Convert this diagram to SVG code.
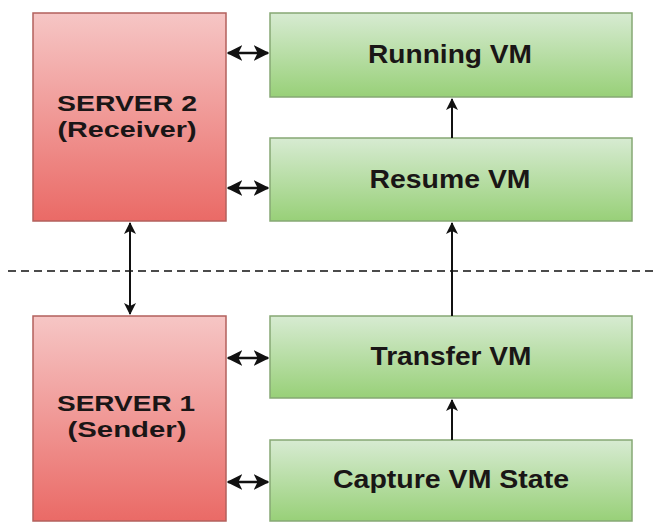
<svg xmlns="http://www.w3.org/2000/svg" width="653" height="523" viewBox="0 0 653 523">
<defs>
<linearGradient id="gRed" x1="0" y1="0" x2="0" y2="1">
<stop offset="0" stop-color="#f6c6c5"/>
<stop offset="1" stop-color="#ea6a66"/>
</linearGradient>
<linearGradient id="gGreen" x1="0" y1="0" x2="0" y2="1">
<stop offset="0" stop-color="#d7ebd2"/>
<stop offset="1" stop-color="#98d078"/>
</linearGradient>
<marker id="ah" viewBox="0 0 12 12" refX="11" refY="6" markerWidth="6" markerHeight="6" orient="auto-start-reverse" markerUnits="strokeWidth">
<path d="M0,0 L12,6 L0,12 L3,6 Z" fill="#111"/>
</marker>
<style>
.red{fill:url(#gRed);stroke:#b3605c;stroke-width:1.5}
.green{fill:url(#gGreen);stroke:#86a874;stroke-width:1.5}
.t{font-family:"Liberation Sans",Arial,sans-serif;font-weight:bold;font-size:25px;fill:#1a1616;text-anchor:middle}
.s{font-size:22px}
.c{stroke:#111;stroke-width:2;fill:none}
.h{stroke:#111;stroke-width:2.6;fill:none}
</style>
</defs>
<rect width="653" height="523" fill="#ffffff"/>
<g id="server2"><rect class="red" x="33" y="13" width="193" height="208"/>
<text class="t s" x="127" y="111" textLength="140" lengthAdjust="spacingAndGlyphs">SERVER 2</text><text class="t s" x="127" y="137" textLength="139" lengthAdjust="spacingAndGlyphs">(Receiver)</text></g>
<g id="server1"><rect class="red" x="33" y="316" width="193" height="205"/>
<text class="t s" x="126" y="411" textLength="138" lengthAdjust="spacingAndGlyphs">SERVER 1</text><text class="t s" x="127" y="437" textLength="119" lengthAdjust="spacingAndGlyphs">(Sender)</text></g>
<g id="running"><rect class="green" x="270" y="13" width="362" height="84"/><text class="t" x="450" y="63" textLength="164" lengthAdjust="spacingAndGlyphs">Running VM</text></g>
<g id="resume"><rect class="green" x="270" y="138" width="362" height="83"/><text class="t" x="450" y="188" textLength="161" lengthAdjust="spacingAndGlyphs">Resume VM</text></g>
<g id="transfer"><rect class="green" x="270" y="316" width="362" height="82"/><text class="t" x="451" y="365" textLength="161" lengthAdjust="spacingAndGlyphs">Transfer VM</text></g>
<g id="capture"><rect class="green" x="270" y="440" width="362" height="81"/><text class="t" x="451" y="488" textLength="236" lengthAdjust="spacingAndGlyphs">Capture VM State</text></g>
<g id="connectors">
<line x1="8" y1="271" x2="653" y2="271" stroke="#111" stroke-width="1.5" stroke-dasharray="8,5"/>
<line class="h" x1="228" y1="53" x2="268" y2="53" marker-start="url(#ah)" marker-end="url(#ah)"/>
<line class="h" x1="228" y1="188" x2="268" y2="188" marker-start="url(#ah)" marker-end="url(#ah)"/>
<line class="h" x1="228" y1="358" x2="268" y2="358" marker-start="url(#ah)" marker-end="url(#ah)"/>
<line class="h" x1="228" y1="482" x2="268" y2="482" marker-start="url(#ah)" marker-end="url(#ah)"/>
<line class="c" x1="130" y1="223" x2="130" y2="314" marker-start="url(#ah)" marker-end="url(#ah)"/>
<line class="c" x1="452" y1="138" x2="452" y2="99" marker-end="url(#ah)"/>
<line class="c" x1="452" y1="316" x2="452" y2="223" marker-end="url(#ah)" stroke="#555"/>
<line class="c" x1="452" y1="440" x2="452" y2="400" marker-end="url(#ah)"/>
</g>
</svg>
